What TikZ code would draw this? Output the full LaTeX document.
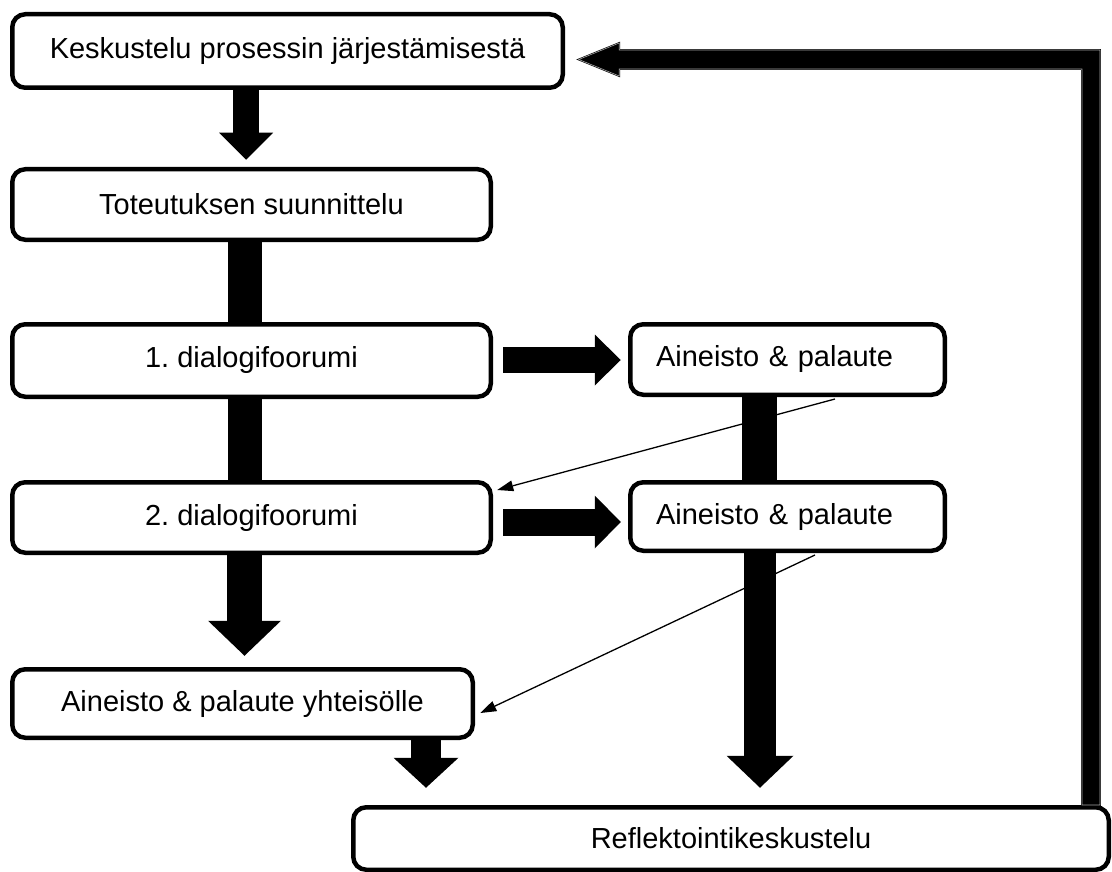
\documentclass[tikz,border=0pt]{standalone}
\usepackage{fontspec}
\setmainfont{Liberation Sans}
\usetikzlibrary{arrows.meta,calc}
\frenchspacing

\tikzset{
  box/.style={draw=black, line width=4.5pt, rounded corners=13pt, fill=white,
    inner sep=0pt, font=\fontsize{29}{34}\selectfont},
  leftbox/.style={box, inner xsep=25.75pt, text width=263pt, align=left},
  thickbar/.style={line width=#1, line cap=butt},
  blockarrow/.style n args={3}{line width=#1, line cap=butt,
    -{Triangle[width=#2, length=#3, line width=0pt]}},
  thinarrow/.style={line width=1.3pt, -{Triangle[length=16pt, width=11pt, line width=0pt]}},
  returnarrow/.style={fill=black, draw=black, line width=0.6pt,
    double=black!35, double distance=0.6pt, line join=miter},
}

\begin{document}
\begin{tikzpicture}[x=1pt, y=-1pt]
  \useasboundingbox (0,0) rectangle (1112,872);

  % process steps
  \node[box, minimum width=550.5pt, minimum height=73.5pt] (b1) at (287.5,51) {Keskustelu prosessin järjestämisestä};
  \node[box, minimum width=478.5pt, minimum height=70.5pt] (b2) at (251.5,204.5) {Toteutuksen suunnittelu};
  \node[box, minimum width=478.5pt, minimum height=72.5pt] (b3) at (251.5,360.5) {1. dialogifoorumi};
  \node[leftbox, minimum height=70.5pt] (b4) at (787.5,359.5) {Aineisto \& palaute};
  \node[box, minimum width=478.5pt, minimum height=70.5pt] (b5) at (251.5,517.5) {2. dialogifoorumi};
  \node[leftbox, minimum height=68.5pt] (b6) at (787.5,516.5) {Aineisto \& palaute};
  \node[box, minimum width=460.5pt, minimum height=68.5pt] (b7) at (242.5,703.5) {Aineisto \& palaute yhteisölle};
  \node[box, minimum width=755.5pt, minimum height=62.5pt] (b8) at (731,838.5) {Reflektointikeskustelu};

  % main column
  \draw[blockarrow={26pt}{54pt}{27pt}, shorten >=7.25pt]
    ($(b1.south)+(-41.5,0)$) -- ($(b2.north)+(-5.5,0)$);
  \draw[thickbar=34pt] ($(b2.south)+(-6.5,0)$) -- ($(b3.north)+(-6.5,0)$);
  \draw[thickbar=34pt] ($(b3.south)+(-6.5,0)$) -- ($(b5.north)+(-6.5,0)$);
  \draw[blockarrow={35pt}{73pt}{35pt}, shorten >=11.25pt]
    ($(b5.south)+(-7,0)$) -- ($(b7.north)+(2,0)$);
  \draw[blockarrow={30pt}{65pt}{30pt}, shorten >=17.25pt]
    ($(b7.south)+(183.5,-2)$) -- ($(b8.north)+(-305,0)$);

  % forums to material
  \draw[blockarrow={26pt}{51pt}{26pt}, shorten <=10.25pt, shorten >=7.25pt]
    ($(b3.east)+(0,-0.5)$) -- ($(b4.west)+(0,0.5)$);
  \draw[blockarrow={27pt}{53pt}{26pt}, shorten <=10.25pt, shorten >=7.25pt]
    ($(b5.east)+(0,4.5)$) -- ($(b6.west)+(0,5.5)$);

  % material column
  \draw[thickbar=35pt] ($(b4.south)+(-28,0)$) -- ($(b6.north)+(-28,0)$);
  \draw[blockarrow={32pt}{67pt}{32pt}, shorten >=17.25pt]
    ($(b6.south)+(-27.5,0)$) -- ($(b8.north)+(29,0)$);

  % feedback lines
  \draw[thinarrow] ($(b4.south)+(47.5,2)$) -- ($(b5.east)+(4.25,-27.5)$);
  \draw[thinarrow] ($(b6.south)+(27.5,2)$) -- ($(b7.east)+(5.25,9.5)$);

  % return from reflection back to the start
  \coordinate (rc) at (1091,59.5);
  \path[returnarrow]
    ($(b8.north -| rc)+(-9,0)$) -- ($(rc)+(-9,9.5)$)
    -- ($(b1.east |- rc)+(54.25,9.5)$) -- ($(b1.east |- rc)+(54.25,16.5)$)
    -- ($(b1.east |- rc)+(13.75,0)$)
    -- ($(b1.east |- rc)+(54.25,-16.5)$) -- ($(b1.east |- rc)+(54.25,-9.5)$)
    -- ($(rc)+(9,-9.5)$) -- ($(b8.north -| rc)+(9,0)$) -- cycle;
\end{tikzpicture}
\end{document}
